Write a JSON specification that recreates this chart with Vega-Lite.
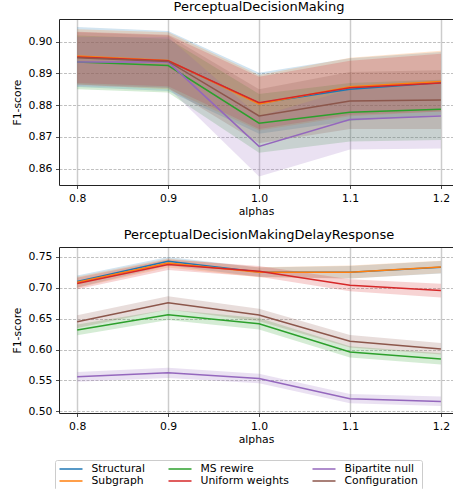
{
  "$schema": "https://vega.github.io/schema/vega-lite/v6.json",
  "padding": {"left": 11, "top": 1, "right": 0, "bottom": 0},
  "spacing": 12,
  "config": {
    "font": "DejaVu Sans",
    "view": {"stroke": null},
    "title": {"font": "DejaVu Sans", "fontSize": 13, "fontWeight": "normal", "color": "#000", "offset": 5},
    "axis": {"labelFont": "DejaVu Sans", "labelFontSize": 10.8, "labelColor": "#000", "titleFont": "DejaVu Sans", "titleFontSize": 10.8, "titleFontWeight": "normal", "titleColor": "#000", "tickColor": "#222", "tickSize": 3.5, "tickWidth": 0.8, "domainColor": "#222", "domainWidth": 1, "labelPadding": 3.5},
    "legend": {"symbolType": "stroke", "symbolSize": 529, "symbolStrokeWidth": 1.5, "symbolOpacity": 1, "clipHeight": 11, "labelFont": "DejaVu Sans", "labelFontSize": 10.8, "labelColor": "#000", "labelOffset": 8, "columnPadding": 22, "rowPadding": 0, "padding": 3.5, "strokeColor": "#cccccc", "cornerRadius": 2}
  },
  "datasets": {
    "pdm": [
      {"alpha": 0.8, "series": "Structural", "mean": 0.8952, "lo": 0.8857, "hi": 0.9047},
      {"alpha": 0.9, "series": "Structural", "mean": 0.8940, "lo": 0.8845, "hi": 0.9034},
      {"alpha": 1.0, "series": "Structural", "mean": 0.8806, "lo": 0.8710, "hi": 0.8902},
      {"alpha": 1.1, "series": "Structural", "mean": 0.8850, "lo": 0.8750, "hi": 0.8948},
      {"alpha": 1.2, "series": "Structural", "mean": 0.8871, "lo": 0.8770, "hi": 0.8968},
      {"alpha": 0.8, "series": "Subgraph", "mean": 0.8955, "lo": 0.8865, "hi": 0.9040},
      {"alpha": 0.9, "series": "Subgraph", "mean": 0.8941, "lo": 0.8850, "hi": 0.9030},
      {"alpha": 1.0, "series": "Subgraph", "mean": 0.8804, "lo": 0.8720, "hi": 0.8895},
      {"alpha": 1.1, "series": "Subgraph", "mean": 0.8858, "lo": 0.8765, "hi": 0.8950},
      {"alpha": 1.2, "series": "Subgraph", "mean": 0.8875, "lo": 0.8780, "hi": 0.8972},
      {"alpha": 0.8, "series": "MS rewire", "mean": 0.8936, "lo": 0.8850, "hi": 0.9020},
      {"alpha": 0.9, "series": "MS rewire", "mean": 0.8925, "lo": 0.8840, "hi": 0.9010},
      {"alpha": 1.0, "series": "MS rewire", "mean": 0.8743, "lo": 0.8650, "hi": 0.8835},
      {"alpha": 1.1, "series": "MS rewire", "mean": 0.8778, "lo": 0.8685, "hi": 0.8870},
      {"alpha": 1.2, "series": "MS rewire", "mean": 0.8787, "lo": 0.8690, "hi": 0.8880},
      {"alpha": 0.8, "series": "Uniform weights", "mean": 0.8952, "lo": 0.8870, "hi": 0.9032},
      {"alpha": 0.9, "series": "Uniform weights", "mean": 0.8940, "lo": 0.8860, "hi": 0.9022},
      {"alpha": 1.0, "series": "Uniform weights", "mean": 0.8808, "lo": 0.8725, "hi": 0.8890},
      {"alpha": 1.1, "series": "Uniform weights", "mean": 0.8855, "lo": 0.8770, "hi": 0.8940},
      {"alpha": 1.2, "series": "Uniform weights", "mean": 0.8870, "lo": 0.8780, "hi": 0.8962},
      {"alpha": 0.8, "series": "Bipartite null", "mean": 0.8936, "lo": 0.8860, "hi": 0.9015},
      {"alpha": 0.9, "series": "Bipartite null", "mean": 0.8936, "lo": 0.8855, "hi": 0.9015},
      {"alpha": 1.0, "series": "Bipartite null", "mean": 0.8670, "lo": 0.8575, "hi": 0.8765},
      {"alpha": 1.1, "series": "Bipartite null", "mean": 0.8755, "lo": 0.8660, "hi": 0.8850},
      {"alpha": 1.2, "series": "Bipartite null", "mean": 0.8766, "lo": 0.8663, "hi": 0.8868},
      {"alpha": 0.8, "series": "Configuration", "mean": 0.8950, "lo": 0.8865, "hi": 0.9030},
      {"alpha": 0.9, "series": "Configuration", "mean": 0.8938, "lo": 0.8855, "hi": 0.9020},
      {"alpha": 1.0, "series": "Configuration", "mean": 0.8766, "lo": 0.8680, "hi": 0.8850},
      {"alpha": 1.1, "series": "Configuration", "mean": 0.8813, "lo": 0.8725, "hi": 0.8905},
      {"alpha": 1.2, "series": "Configuration", "mean": 0.8816, "lo": 0.8725, "hi": 0.8910}
    ],
    "pdmdr": [
      {"alpha": 0.8, "series": "Structural", "mean": 0.7102, "lo": 0.7005, "hi": 0.7200},
      {"alpha": 0.9, "series": "Structural", "mean": 0.7430, "lo": 0.7360, "hi": 0.7500},
      {"alpha": 1.0, "series": "Structural", "mean": 0.7255, "lo": 0.7180, "hi": 0.7330},
      {"alpha": 1.1, "series": "Structural", "mean": 0.7253, "lo": 0.7150, "hi": 0.7355},
      {"alpha": 1.2, "series": "Structural", "mean": 0.7333, "lo": 0.7230, "hi": 0.7435},
      {"alpha": 0.8, "series": "Subgraph", "mean": 0.7091, "lo": 0.7000, "hi": 0.7180},
      {"alpha": 0.9, "series": "Subgraph", "mean": 0.7403, "lo": 0.7330, "hi": 0.7475},
      {"alpha": 1.0, "series": "Subgraph", "mean": 0.7253, "lo": 0.7170, "hi": 0.7335},
      {"alpha": 1.1, "series": "Subgraph", "mean": 0.7253, "lo": 0.7150, "hi": 0.7360},
      {"alpha": 1.2, "series": "Subgraph", "mean": 0.7339, "lo": 0.7235, "hi": 0.7440},
      {"alpha": 0.8, "series": "MS rewire", "mean": 0.6317, "lo": 0.6230, "hi": 0.6405},
      {"alpha": 0.9, "series": "MS rewire", "mean": 0.6565, "lo": 0.6480, "hi": 0.6650},
      {"alpha": 1.0, "series": "MS rewire", "mean": 0.6419, "lo": 0.6325, "hi": 0.6510},
      {"alpha": 1.1, "series": "MS rewire", "mean": 0.5962, "lo": 0.5870, "hi": 0.6055},
      {"alpha": 1.2, "series": "MS rewire", "mean": 0.5849, "lo": 0.5760, "hi": 0.5940},
      {"alpha": 0.8, "series": "Uniform weights", "mean": 0.7070, "lo": 0.6975, "hi": 0.7165},
      {"alpha": 0.9, "series": "Uniform weights", "mean": 0.7376, "lo": 0.7290, "hi": 0.7460},
      {"alpha": 1.0, "series": "Uniform weights", "mean": 0.7269, "lo": 0.7180, "hi": 0.7355},
      {"alpha": 1.1, "series": "Uniform weights", "mean": 0.7043, "lo": 0.6945, "hi": 0.7140},
      {"alpha": 1.2, "series": "Uniform weights", "mean": 0.6957, "lo": 0.6845, "hi": 0.7065},
      {"alpha": 0.8, "series": "Bipartite null", "mean": 0.5559, "lo": 0.5480, "hi": 0.5635},
      {"alpha": 0.9, "series": "Bipartite null", "mean": 0.5624, "lo": 0.5540, "hi": 0.5705},
      {"alpha": 1.0, "series": "Bipartite null", "mean": 0.5532, "lo": 0.5455, "hi": 0.5610},
      {"alpha": 1.1, "series": "Bipartite null", "mean": 0.5204, "lo": 0.5130, "hi": 0.5280},
      {"alpha": 1.2, "series": "Bipartite null", "mean": 0.5161, "lo": 0.5085, "hi": 0.5240},
      {"alpha": 0.8, "series": "Configuration", "mean": 0.6452, "lo": 0.6350, "hi": 0.6555},
      {"alpha": 0.9, "series": "Configuration", "mean": 0.6758, "lo": 0.6650, "hi": 0.6865},
      {"alpha": 1.0, "series": "Configuration", "mean": 0.6559, "lo": 0.6460, "hi": 0.6660},
      {"alpha": 1.1, "series": "Configuration", "mean": 0.6134, "lo": 0.6035, "hi": 0.6235},
      {"alpha": 1.2, "series": "Configuration", "mean": 0.6011, "lo": 0.5920, "hi": 0.6105}
    ]
  },
  "vconcat": [
    {
      "title": {"text": "PerceptualDecisionMaking", "dx": 3},
      "width": 394,
      "height": 166,
      "data": {"name": "pdm"},
      "resolve": {"axis": {"x": "independent"}},
      "layer": [
        {
          "mark": {"type": "area", "opacity": 0.2},
          "encoding": {
            "x": {"field": "alpha", "type": "quantitative", "scale": {"domain": [0.78, 1.2133], "nice": false, "zero": false}, "axis": {"orient": "bottom", "values": [0.8, 0.9, 1.0, 1.1, 1.2], "format": ".1f", "title": "alphas", "titlePadding": 3, "grid": true, "gridColor": "#cccccc", "gridWidth": 1.5, "labelFlush": false}},
            "y": {"field": "lo", "type": "quantitative", "scale": {"domain": [0.8548, 0.9072], "nice": false, "zero": false}, "axis": {"values": [0.86, 0.87, 0.88, 0.89, 0.90], "format": ".2f", "title": "F1-score", "titlePadding": 5, "grid": true, "gridColor": "#b0b0b0", "gridDash": [3, 1.5], "gridWidth": 0.8}},
            "y2": {"field": "hi"},
            "fill": {"field": "series", "type": "nominal", "legend": null, "scale": {"domain": ["Structural", "MS rewire", "Bipartite null", "Subgraph", "Uniform weights", "Configuration"], "range": ["#1f77b4", "#2ca02c", "#9467bd", "#ff7f0e", "#d62728", "#8c564b"]}}
          }
        },
        {
          "mark": {"type": "line", "strokeWidth": 1.5},
          "encoding": {
            "x": {"field": "alpha", "type": "quantitative", "axis": {"orient": "top", "labels": false, "ticks": false, "grid": false, "title": null, "domain": true}},
            "y": {"field": "mean", "type": "quantitative", "axis": {"values": [0.86, 0.87, 0.88, 0.89, 0.90], "format": ".2f", "title": "F1-score", "titlePadding": 5, "grid": true, "gridColor": "#b0b0b0", "gridDash": [3, 1.5], "gridWidth": 0.8}},
            "color": {"field": "series", "type": "nominal", "scale": {"domain": ["Structural", "Subgraph", "MS rewire", "Uniform weights", "Bipartite null", "Configuration"], "range": ["#1f77b4", "#ff7f0e", "#2ca02c", "#d62728", "#9467bd", "#8c564b"]}, "legend": {"orient": "none", "legendX": -4, "legendY": 441, "columns": 3, "title": null}}
          }
        }
      ]
    },
    {
      "title": {"text": "PerceptualDecisionMakingDelayResponse", "dx": 3},
      "width": 394,
      "height": 166,
      "data": {"name": "pdmdr"},
      "resolve": {"axis": {"x": "independent"}},
      "layer": [
        {
          "mark": {"type": "area", "opacity": 0.2},
          "encoding": {
            "x": {"field": "alpha", "type": "quantitative", "scale": {"domain": [0.78, 1.2133], "nice": false, "zero": false}, "axis": {"orient": "bottom", "values": [0.8, 0.9, 1.0, 1.1, 1.2], "format": ".1f", "title": "alphas", "titlePadding": 3, "grid": true, "gridColor": "#cccccc", "gridWidth": 1.5, "labelFlush": false}},
            "y": {"field": "lo", "type": "quantitative", "scale": {"domain": [0.4973, 0.7661], "nice": false, "zero": false}, "axis": {"values": [0.50, 0.55, 0.60, 0.65, 0.70, 0.75], "format": ".2f", "title": "F1-score", "titlePadding": 5, "grid": true, "gridColor": "#b0b0b0", "gridDash": [3, 1.5], "gridWidth": 0.8}},
            "y2": {"field": "hi"},
            "fill": {"field": "series", "type": "nominal", "legend": null}
          }
        },
        {
          "mark": {"type": "line", "strokeWidth": 1.5},
          "encoding": {
            "x": {"field": "alpha", "type": "quantitative", "axis": {"orient": "top", "labels": false, "ticks": false, "grid": false, "title": null, "domain": true}},
            "y": {"field": "mean", "type": "quantitative", "axis": {"values": [0.50, 0.55, 0.60, 0.65, 0.70, 0.75], "format": ".2f", "title": "F1-score", "titlePadding": 5, "grid": true, "gridColor": "#b0b0b0", "gridDash": [3, 1.5], "gridWidth": 0.8}},
            "color": {"field": "series", "type": "nominal", "legend": {"orient": "none", "legendX": -4, "legendY": 441, "columns": 3, "title": null}}
          }
        }
      ]
    }
  ]
}
